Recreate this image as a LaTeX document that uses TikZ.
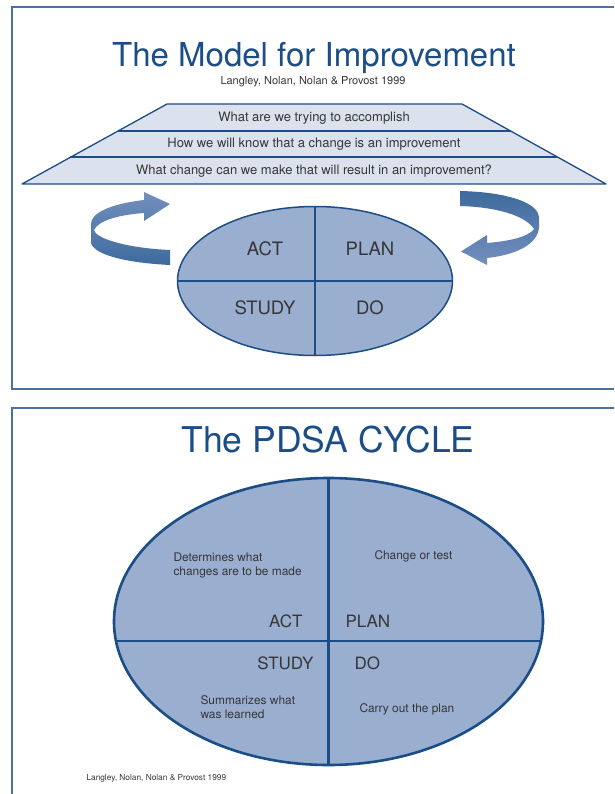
\documentclass[tikz,border=0pt]{standalone}
\usepackage{fontspec}
\setmainfont{TeX Gyre Heros}
\usetikzlibrary{positioning}

\definecolor{pdsablue}{HTML}{1B4D87}
\definecolor{framecol}{HTML}{4A7199}
\definecolor{tierfill}{HTML}{DCE1EE}
\definecolor{cellfill}{HTML}{9AAECF}
\definecolor{arrdark}{HTML}{3D6A9D}
\definecolor{arrlight}{HTML}{7490BE}
\definecolor{txtgray}{HTML}{363636}

\tikzset{
  frame/.style={draw=framecol, line width=1.2pt},
  heading/.style={text=pdsablue, font=\fontsize{33}{38}\selectfont},
  cite/.style={text=txtgray, font=\fontsize{11}{13}\selectfont},
  tier/.style={draw=pdsablue, fill=tierfill, line width=1.3pt, line join=round},
  tiertext/.style={text=txtgray, font=\fontsize{13}{15}\selectfont},
  cell/.style={draw=pdsablue, fill=cellfill},
  quad/.style={text=txtgray, font=\fontsize{17}{20}\selectfont},
  note/.style={text=txtgray, align=left, font=\fontsize{11.9}{14}\selectfont},
  turn/.style={top color=arrlight, bottom color=arrdark}
}

\begin{document}
\begin{tikzpicture}[x=1pt, y=-1pt]
  \useasboundingbox (0,0) rectangle (614,794);
  \begin{scope}
    \clip (0,0) rectangle (614,794);
    \draw[frame] (12,7) rectangle (630,389);
    \draw[frame] (12,408) rectangle (630,810);
  \end{scope}

  % model for improvement
  \node[heading] (title) at (314,58) {The Model for Improvement};
  \node[cite] (cite) at (313,81.5) {Langley, Nolan, Nolan \& Provost 1999};

  \draw[tier] (167,104) -- (462,104) -- (606,184) -- (22,184) -- cycle;
  \draw[tier] (118,131) -- (511,131);
  \draw[tier] (70,157) -- (557,157);
  \node[tiertext] (aim) at (314,118) {What are we trying to accomplish};
  \node[tiertext] (measure) at (314,144.5) {How we will know that a change is an improvement};
  \node[tiertext] (change) at (314,171) {What change can we make that will result in an improvement?};

  \shade[turn] (170,250) .. controls (125,248) and (95,238) .. (94,230)
    .. controls (98,221) and (117,215) .. (144,213) -- (144,221) -- (170,204)
    -- (144,192) -- (144,200) .. controls (110,204) and (91,213) .. (91,224)
    -- (91,243) .. controls (95,256) and (130,263) .. (170,265) -- cycle;
  \shade[turn, top color=arrdark, bottom color=arrlight] (460,191)
    .. controls (505,192) and (539,202) .. (539,218) -- (539,228)
    .. controls (537,245) and (515,255) .. (487,258) -- (487,265) -- (461,251.5)
    -- (487,235) -- (487,243) .. controls (510,241) and (528,237) .. (534,229)
    .. controls (525,215) and (495,207) .. (460,206) -- cycle;

  \draw[cell, line width=1.5pt] (315,281) ellipse [x radius=137.5, y radius=74.5];
  \begin{scope}
    \clip (315,281) ellipse [x radius=137.5, y radius=74.5];
    \draw[pdsablue, line width=1.5pt] (315,200) -- (315,360) (170,281) -- (460,281);
  \end{scope}
  \node[quad, font=\fontsize{18.5}{21}\selectfont] (actA) at (265,249) {ACT};
  \node[quad, font=\fontsize{18.5}{21}\selectfont] (planA) at (370,249) {PLAN};
  \node[quad, font=\fontsize{18.5}{21}\selectfont] (studyA) at (265,308) {STUDY};
  \node[quad, font=\fontsize{18.5}{21}\selectfont] (doA) at (370,308) {DO};

  % pdsa cycle
  \node[heading, font=\fontsize{35.5}{40}\selectfont] (cycle) at (328,440) {The PDSA CYCLE};

  \draw[cell, line width=2.6pt] (328.5,621.5) ellipse [x radius=214.5, y radius=143.5];
  \begin{scope}
    \clip (328.5,621.5) ellipse [x radius=214.5, y radius=143.5];
    \draw[pdsablue, line width=2.6pt] (328.5,470) -- (328.5,770) (110,641) -- (550,641);
  \end{scope}
  \node[quad, anchor=east] (act) at (306,621) {ACT};
  \node[quad, anchor=west] (plan) at (342,621) {PLAN};
  \node[quad, anchor=east] (study) at (317,663) {STUDY};
  \node[quad, anchor=west] (do) at (351,663) {DO};

  \node[note, anchor=west] (actnote) at (170,565) {Determines what\\changes are to be made};
  \node[note, anchor=west] (plannote) at (371,556) {Change or test};
  \node[note, anchor=west] (studynote) at (197,707) {Summarizes what\\was learned};
  \node[note, anchor=west] (donote) at (356,709) {Carry out the plan};

  \node[cite, anchor=west, font=\fontsize{8.3}{10}\selectfont] (source) at (83,778) {Langley, Nolan, Nolan \& Provost 1999};
\end{tikzpicture}
\end{document}
